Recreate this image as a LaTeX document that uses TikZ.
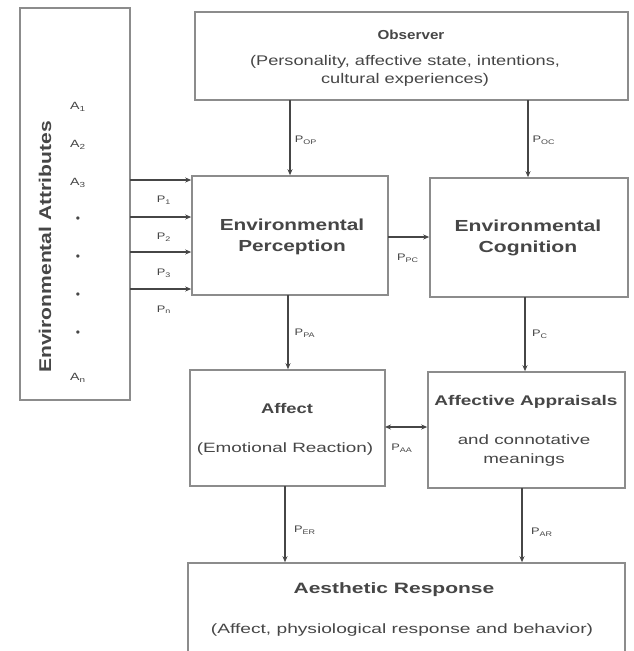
\documentclass[tikz,border=0pt]{standalone}
\usepackage{fontspec}
\setmainfont{Liberation Sans}
\usetikzlibrary{arrows.meta}
\definecolor{boxline}{RGB}{140,140,140}
\definecolor{arrline}{RGB}{70,70,70}
\definecolor{txt}{RGB}{70,70,70}
\newcommand{\wx}[2][1.35]{\scalebox{#1}[1]{#2}}
\newcommand{\twol}[2]{\begin{tabular}{@{}c@{}}#1\\#2\end{tabular}}
\begin{document}
\begin{tikzpicture}[x=1pt,y=-1pt,
  box/.style={draw=boxline,line width=1.6pt,align=center,inner sep=0pt},
  arr/.style={draw=arrline,line width=1.2pt,-{Stealth[length=6pt,width=5pt]}},
  barr/.style={draw=arrline,line width=1.2pt,{Stealth[length=6pt,width=5pt]}-{Stealth[length=6pt,width=5pt]}},
  lbl/.style={text=txt,font=\fontsize{9.5}{11}\selectfont,inner sep=0pt},
  tt/.style={text=txt,align=center,inner sep=0pt}]
\useasboundingbox[fill=white] (0,0) rectangle (633,651);
% boxes
\node[box,minimum width=110pt,minimum height=392pt] (attr) at (75,204) {};
\node[box,minimum width=433pt,minimum height=88pt] (obs) at (411.5,56) {};
\node[box,minimum width=196pt,minimum height=119pt] (ep) at (290,235.5) {};
\node[box,minimum width=198pt,minimum height=119pt] (ec) at (529,237.5) {};
\node[box,minimum width=195pt,minimum height=116pt] (aff) at (287.5,428) {};
\node[box,minimum width=197pt,minimum height=116pt] (aa) at (526.5,430) {};
\node[box,minimum width=437pt,minimum height=90pt] (ar) at (406.5,608) {};
% texts
\node[tt,rotate=90,font=\fontsize{17}{20}\selectfont\bfseries] (attrt) at (45,247) {\wx[1.24]{Environmental Attributes}};
\node[lbl,font=\fontsize{10.5}{12}\selectfont] (a1) at (78,107) {\wx{A\textsubscript{1}}};
\node[lbl,font=\fontsize{10.5}{12}\selectfont] (a2) at (78,145) {\wx{A\textsubscript{2}}};
\node[lbl,font=\fontsize{10.5}{12}\selectfont] (a3) at (78,183) {\wx{A\textsubscript{3}}};
\node[lbl,font=\fontsize{12}{12}\selectfont] (d1) at (78,220) {•};
\node[lbl,font=\fontsize{12}{12}\selectfont] (d2) at (78,258) {•};
\node[lbl,font=\fontsize{12}{12}\selectfont] (d3) at (78,296) {•};
\node[lbl,font=\fontsize{12}{12}\selectfont] (d4) at (78,334) {•};
\node[lbl,font=\fontsize{10.5}{12}\selectfont] (an) at (78,378) {\wx{A\textsubscript{n}}};
\node[tt,font=\fontsize{13}{15}\selectfont\bfseries] (obst) at (411,35) {\wx[1.17]{Observer}};
\node[tt,font=\fontsize{14}{18}\selectfont] (obss) at (405,71) {\wx[1.3]{\twol{(Personality, affective state, intentions,}{cultural experiences)}}};
\node[tt,font=\fontsize{16}{21}\selectfont\bfseries] (ept) at (292,237) {\wx[1.3]{\twol{Environmental}{Perception}}};
\node[tt,font=\fontsize{16}{21}\selectfont\bfseries] (ect) at (528,238) {\wx[1.32]{\twol{Environmental}{Cognition}}};
\node[tt,font=\fontsize{14}{16}\selectfont\bfseries] (afft) at (287,408) {\wx[1.31]{Affect}};
\node[tt,font=\fontsize{13.5}{16}\selectfont] (affs) at (285,449) {\wx[1.4]{(Emotional Reaction)}};
\node[tt,font=\fontsize{14}{16}\selectfont\bfseries] (aat) at (526,402) {\wx[1.36]{Affective Appraisals}};
\node[tt,font=\fontsize{13.5}{19}\selectfont] (aas) at (524,450) {\wx[1.39]{\twol{and connotative}{meanings}}};
\node[tt,font=\fontsize{15}{17}\selectfont\bfseries] (art) at (394,590) {\wx[1.4]{Aesthetic Response}};
\node[tt,font=\fontsize{13.5}{16}\selectfont] (ars) at (402,630) {\wx[1.42]{(Affect, physiological response and behavior)}};
% connectors
\coordinate (o1) at (290,100);
\coordinate (o2) at (528,100);
\draw[arr] (o1) -- (o1 |- ep.north);
\draw[arr] (o2) -- (o2 |- ec.north);
\foreach \y/\n in {180/1,217/2,252/3,289/4}{
  \coordinate (s\n) at (130,\y);
  \draw[arr] (s\n) -- (s\n -| ep.west);
}
\coordinate (pc) at (388,237);
\draw[arr] (pc) -- (pc -| ec.west);
\coordinate (pa) at (288,295);
\draw[arr] (pa) -- (pa |- aff.north);
\coordinate (ca) at (525,297);
\draw[arr] (ca) -- (ca |- aa.north);
\coordinate (af) at (385,427);
\draw[barr] (af) -- (af -| aa.west);
\coordinate (ra) at (285,486);
\draw[arr] (ra) -- (ra |- ar.north);
\coordinate (rb) at (522,488);
\draw[arr] (rb) -- (rb |- ar.north);
% labels
\node[lbl] (l1) at (164,200) {\wx{P\textsubscript{1}}};
\node[lbl] (l2) at (164,237) {\wx{P\textsubscript{2}}};
\node[lbl] (l3) at (164,273) {\wx{P\textsubscript{3}}};
\node[lbl] (l4) at (164,310) {\wx{P\textsubscript{n}}};
\node[lbl] (lop) at (306,140) {\wx{P\textsubscript{OP}}};
\node[lbl] (loc) at (544,140) {\wx{P\textsubscript{OC}}};
\node[lbl] (lpc) at (408,258) {\wx{P\textsubscript{PC}}};
\node[lbl] (lpa) at (305,333) {\wx{P\textsubscript{PA}}};
\node[lbl] (lca) at (540,334) {\wx{P\textsubscript{C}}};
\node[lbl] (laa) at (402,448) {\wx{P\textsubscript{AA}}};
\node[lbl] (lar) at (305,530) {\wx{P\textsubscript{ER}}};
\node[lbl] (lbr) at (542,532) {\wx{P\textsubscript{AR}}};
\end{tikzpicture}
\end{document}
